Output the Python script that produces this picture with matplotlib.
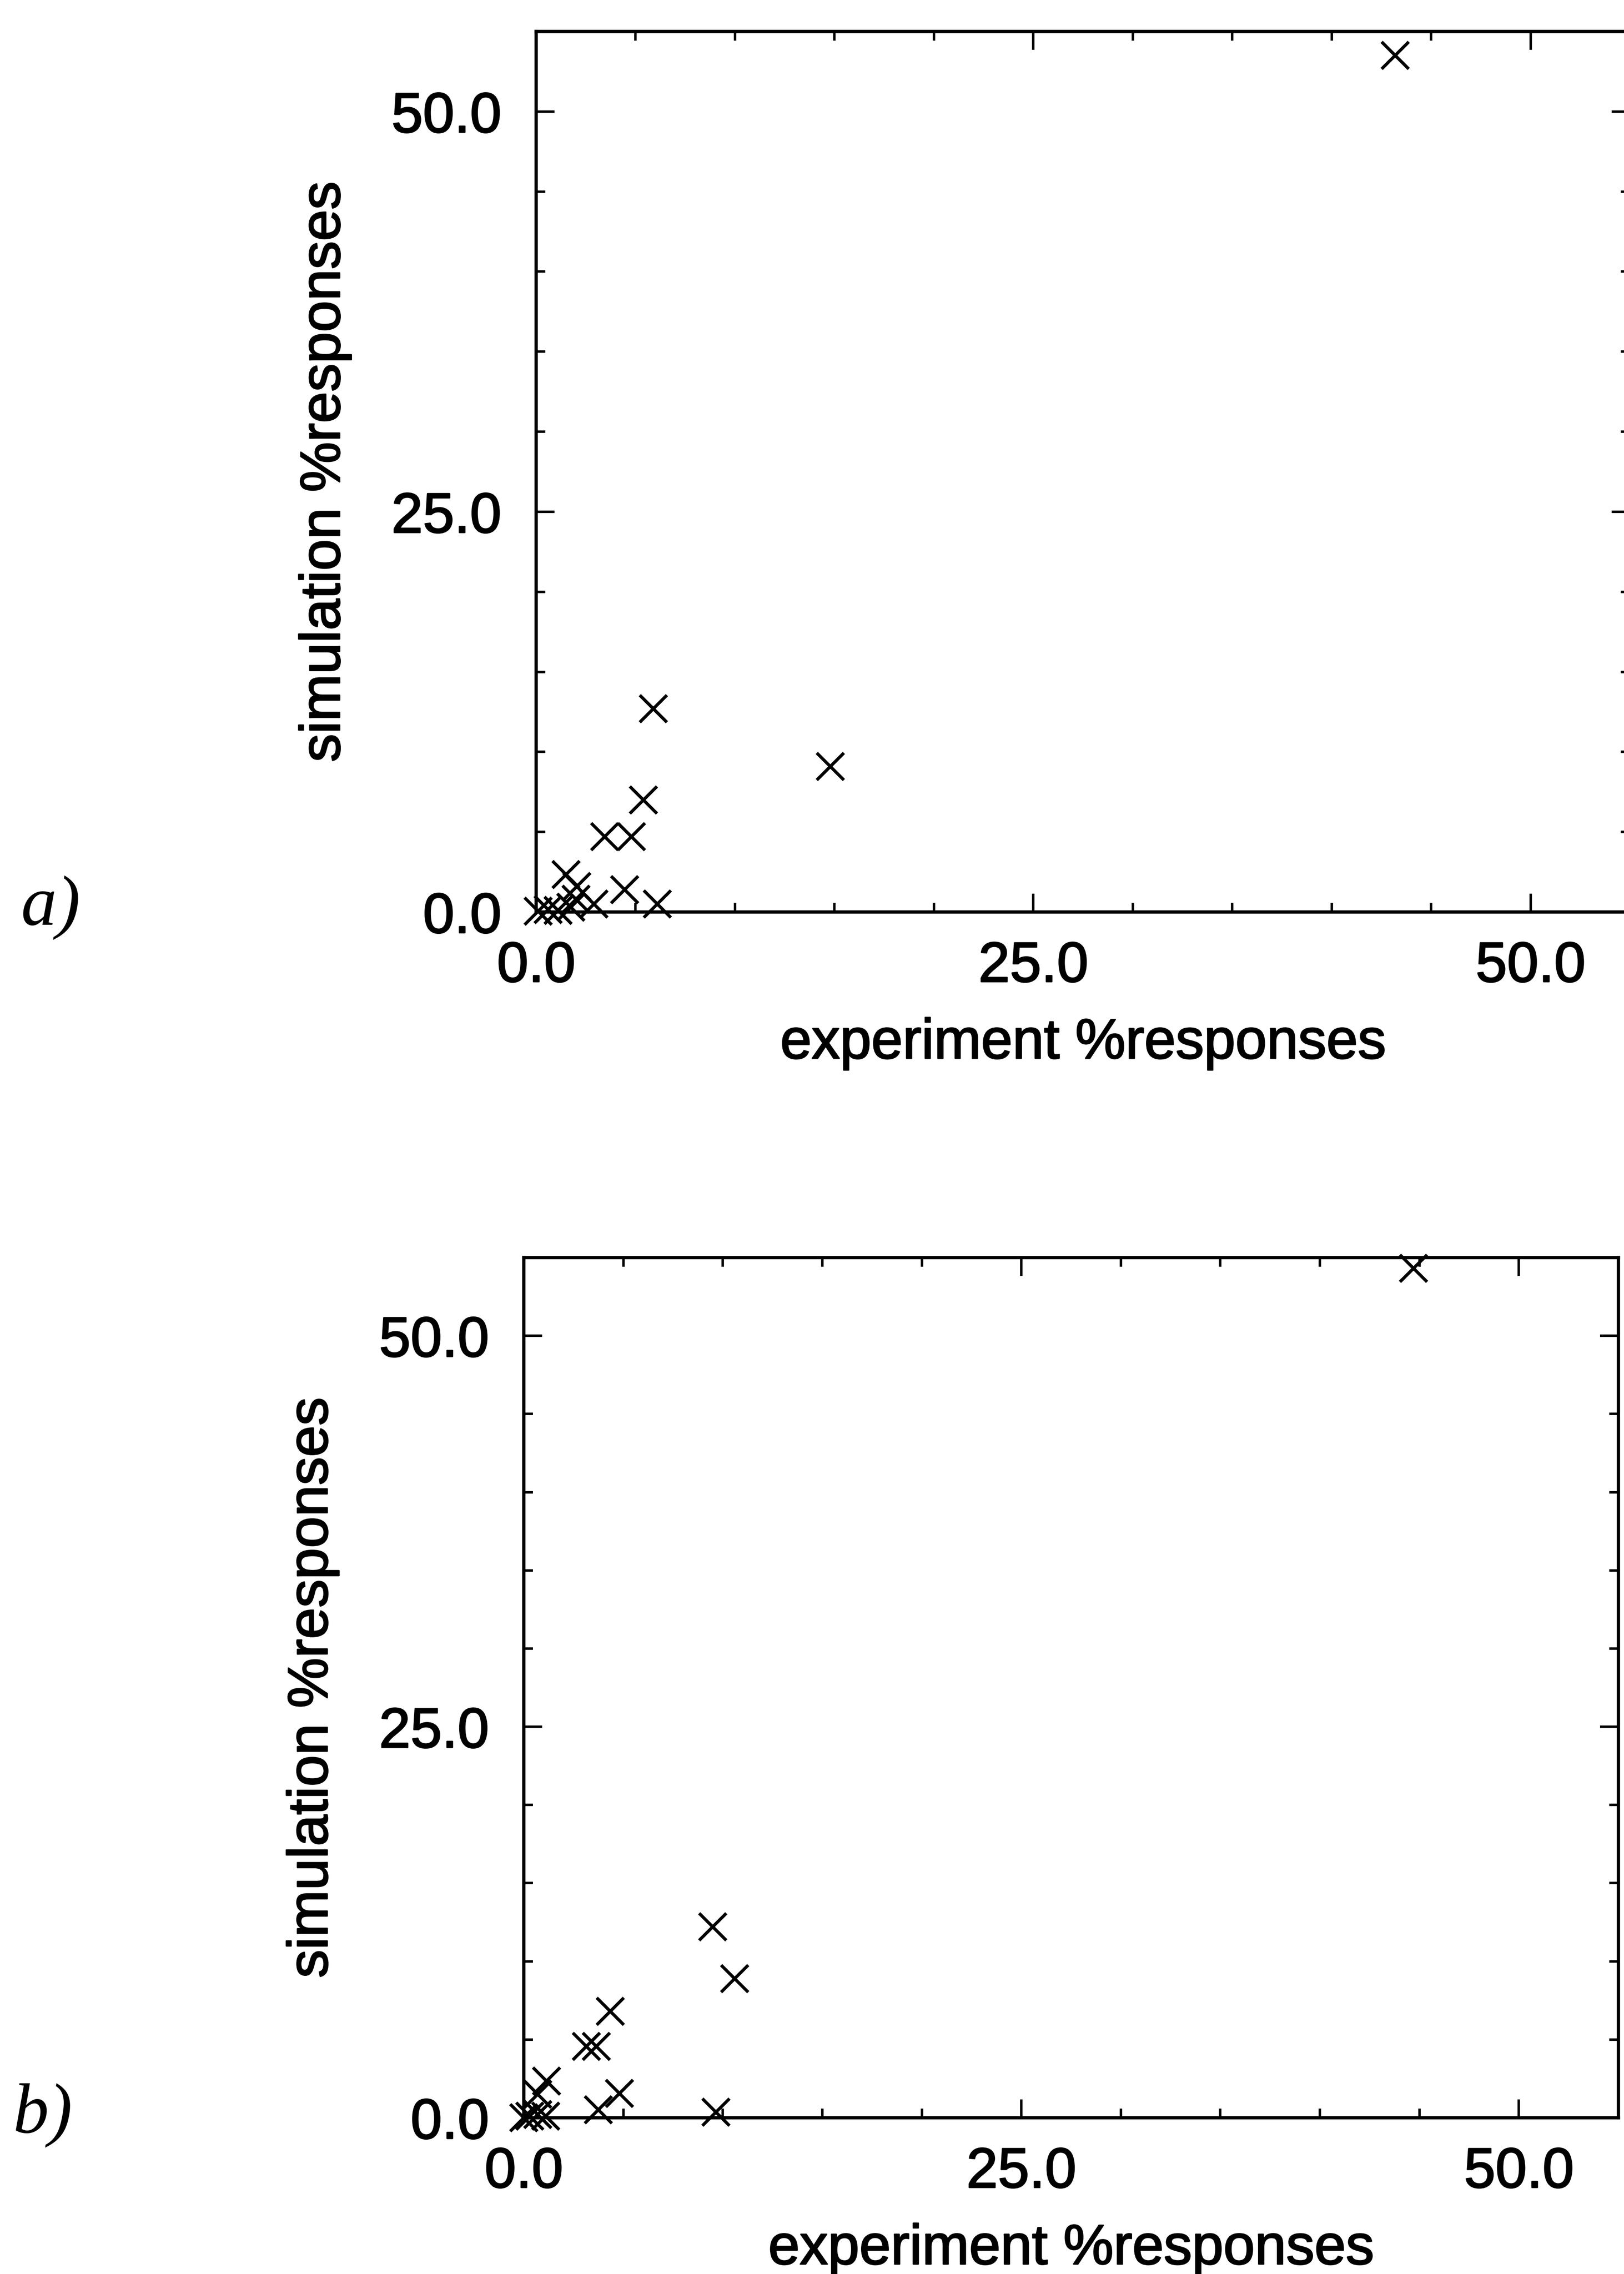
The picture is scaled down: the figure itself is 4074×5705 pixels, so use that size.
import numpy as np
import matplotlib
matplotlib.use("Agg")
import matplotlib.pyplot as plt
import matplotlib.patheffects as pe
from matplotlib.ticker import MultipleLocator, FixedLocator

# data (experiment %, simulation %)
exp_a = [43.2, 5.9, 14.8, 5.4, 3.45, 4.8, 1.5, 2.05, 4.45, 6.1, 2.9, 2.0, 1.75, 1.1, 0.6, 0.1]
sim_a = [53.5, 12.7, 9.1, 7.0, 4.7, 4.7, 2.35, 1.6, 1.4, 0.5, 0.5, 0.8, 0.3, 0.1, 0.15, 0.05]

exp_b = [44.7, 9.5, 10.6, 4.35, 3.15, 3.65, 1.15, 4.8, 3.75, 9.65, 0.7, 0.3, 0.7, 1.1, 0.0]
sim_b = [54.3, 12.2, 8.9, 6.8, 4.55, 4.55, 2.35, 1.55, 0.5, 0.35, 1.5, 0.1, 0.2, 0.1, 0.0]

major_ticks = [0, 25, 50]
tick_labels = ["0.0", "25.0", "50.0"]
x_title = "experiment %responses"
y_title = "simulation %responses"

W, H = 4074, 5705
DPI = 300
plt.rcParams['font.family'] = ['Liberation Sans', 'DejaVu Sans']

fig = plt.figure(figsize=(W / DPI, H / DPI), dpi=DPI)

# scanned text is a bit heavier than plain regular weight
heavy = [pe.withStroke(linewidth=0.8, foreground="black")]


def rect(left, top, right, bottom):
    # pixel box -> figure fraction
    return [left / W, 1 - bottom / H, (right - left) / W, (bottom - top) / H]


def panel(ax, xs, ys):
    ax.plot(xs, ys, linestyle="none", marker="x", color="black",
            markersize=16.5, markeredgewidth=1.9, clip_on=False)
    ax.set_xlim(0, 55)
    ax.set_ylim(0, 55)
    for axis in (ax.xaxis, ax.yaxis):
        axis.set_major_locator(FixedLocator(major_ticks))
        axis.set_minor_locator(MultipleLocator(5))
    ax.set_xticklabels(tick_labels)
    ax.set_yticklabels(tick_labels)
    ax.tick_params(which="both", direction="in", top=True, right=True,
                   width=1.5, labelsize=34)
    ax.tick_params(which="major", length=11)
    ax.tick_params(which="minor", length=5.5)
    ax.tick_params(axis="x", pad=17)
    ax.tick_params(axis="y", pad=21)
    for s in ax.spines.values():
        s.set_linewidth(2.0)
    ax.set_xlabel(x_title, fontsize=34, labelpad=14)
    ax.set_ylabel(y_title, fontsize=34, labelpad=24)
    for t in ax.get_xticklabels() + ax.get_yticklabels():
        t.set_path_effects(heavy)
    ax.xaxis.label.set_path_effects(heavy)
    ax.yaxis.label.set_path_effects(heavy)


ax1 = fig.add_axes(rect(1345, 79, 4089, 2288))
panel(ax1, exp_a, sim_a)

ax2 = fig.add_axes(rect(1314, 3155, 4060, 5313))
panel(ax2, exp_b, sim_b)

fig.text(53 / W, 1 - 2320 / H, "a)", fontfamily="Liberation Serif",
         style="italic", fontsize=43, ha="left", va="baseline")
fig.text(32 / W, 1 - 5350 / H, "b)", fontfamily="Liberation Serif",
         style="italic", fontsize=43, ha="left", va="baseline")

fig.savefig("out.png", dpi=DPI, facecolor="white")
